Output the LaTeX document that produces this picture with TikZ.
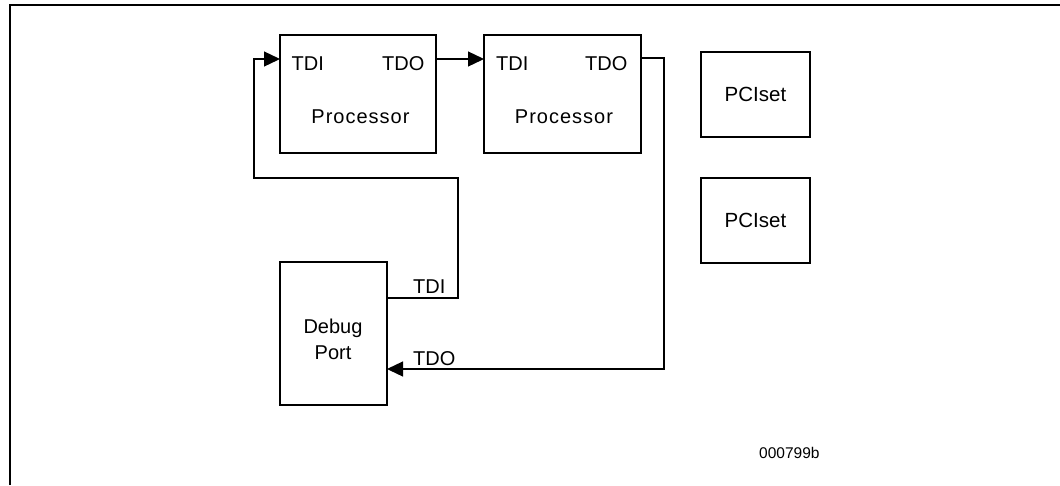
\documentclass[tikz,border=0pt]{standalone}
\usepackage{fontspec}
\setmainfont{Liberation Sans}
\usetikzlibrary{arrows.meta}
\begin{document}
\begin{tikzpicture}[x=1pt,y=-1pt,
  box/.style={draw,line width=2pt,inner sep=0pt,outer sep=0pt},
  lbl/.style={font=\fontsize{20}{26}\selectfont,inner sep=0pt},
  wire/.style={line width=1.3pt},
  arr/.style={wire,-{Triangle[length=16pt,width=15pt]}}]
\useasboundingbox (0,0) rectangle (1060,485);
% page frame (top and left rules)
\draw[line width=2pt] (10,485) -- (10,5) -- (1060,5);

% blocks
\node[box,minimum width=156pt,minimum height=118pt] (p1) at (358,94) {};
\node[box,minimum width=157pt,minimum height=118pt] (p2) at (562.5,94) {};
\node[box,minimum width=109pt,minimum height=85pt,font=\fontsize{20.5}{26}\selectfont] (pci1) at (755.5,94.7) {PCIset};
\node[box,minimum width=109pt,minimum height=85pt,font=\fontsize{20.5}{26}\selectfont] (pci2) at (755.5,220) {PCIset};
\node[box,minimum width=107pt,minimum height=143pt] (dbg) at (333.5,333.5) {};

% block texts
\node[lbl,anchor=base] (p1name) at (360.5,123) {\addfontfeature{LetterSpace=5}Processor};
\node[lbl,anchor=base] (p2name) at (564,123) {\addfontfeature{LetterSpace=5}Processor};
\node[lbl,align=center] (dbgname) at (333,339) {Debug\\Port};
\node[lbl,anchor=base west] (p1tdi) at (291.5,70) {TDI};
\node[lbl,anchor=base west] (p1tdo) at (382,70) {TDO};
\node[lbl,anchor=base west] (p2tdi) at (496,70) {TDI};
\node[lbl,anchor=base west] (p2tdo) at (585,70) {TDO};
\node[lbl,anchor=base west] (dbgtdi) at (413,293) {TDI};
\node[lbl,anchor=base west] (dbgtdo) at (413,365) {TDO};
\node[inner sep=0pt,anchor=base west,font=\fontsize{15.5}{18}\selectfont] (fig) at (759,458) {000799b};

% port points on the block edges
\coordinate (p1in) at (p1.west |- 0,59);
\coordinate (p1out) at (p1.east |- 0,59);
\coordinate (p2in) at (p2.west |- 0,59);
\coordinate (p2out) at (p2.east |- 0,58);
\coordinate (dbgout) at (dbg.east |- 0,298);
\coordinate (dbgin) at (dbg.east |- 0,369);

% scan chain
\draw[arr] (p1out) -- (p2in);
\draw[arr] (p2out) -- (664,58) -- (664,369) -- (dbgin);
\draw[arr] (dbgout) -- (458,298) -- (458,178) -- (254,178) -- (254,59) -- (p1in);
\end{tikzpicture}
\end{document}
